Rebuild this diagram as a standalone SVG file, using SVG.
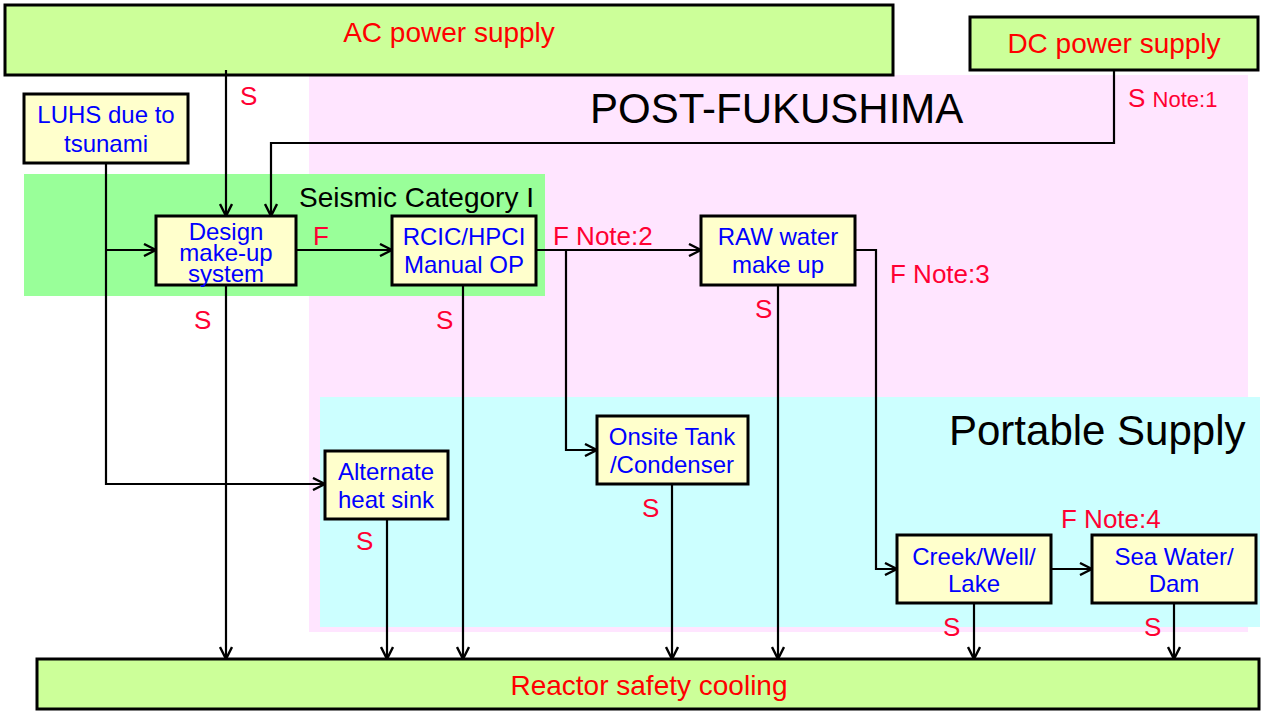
<svg xmlns="http://www.w3.org/2000/svg" width="1263" height="711" viewBox="0 0 1263 711">
<defs>
<style>
.t{font-family:"Liberation Sans",Arial,sans-serif}
.pw{fill:#ccff99;stroke:#000;stroke-width:3}
.nd{fill:#ffffcc;stroke:#000;stroke-width:3}
.nt{font-size:24px;fill:#0000ff;text-anchor:middle}
.rt{font-size:28px;fill:#ff0000;text-anchor:middle}
.lb{font-size:26px;fill:#ff0033}
.ct{fill:none;stroke:#000;stroke-width:2.2}
.big{font-size:42px;fill:#000}
</style>
<marker id="ar" viewBox="0 0 14 14" refX="13" refY="7" markerWidth="14" markerHeight="14" markerUnits="userSpaceOnUse" orient="auto">
<path d="M1,1 L13,7 L1,13" fill="none" stroke="#000" stroke-width="2.4"/>
</marker>
</defs>
<rect width="1263" height="711" fill="#fff"/>
<g id="region-post-fukushima">
<rect x="309" y="75" width="939" height="557" fill="#ffe5ff"/>
<text class="t big" x="590" y="123">POST-FUKUSHIMA</text>
</g>
<g id="region-portable">
<rect x="320" y="397" width="940" height="230" fill="#ccffff"/>
<text class="t big" x="949" y="445">Portable Supply</text>
</g>
<g id="region-seismic">
<rect x="24" y="174" width="521" height="122" fill="#99ff99"/>
<text class="t" x="299" y="207" font-size="28" fill="#000">Seismic Category I</text>
</g>
<g id="ac-power">
<rect class="pw" x="5" y="5" width="888" height="70"/>
<text class="t rt" x="449" y="42">AC power supply</text>
</g>
<g id="dc-power">
<rect class="pw" x="970" y="17" width="288" height="53"/>
<text class="t rt" x="1114" y="53">DC power supply</text>
</g>
<g id="reactor">
<rect class="pw" x="37" y="659" width="1222" height="50"/>
<text class="t rt" x="649" y="695">Reactor safety cooling</text>
</g>
<g id="connectors">
<path class="ct" d="M226,70 V216" marker-end="url(#ar)"/>
<path class="ct" d="M1114,70 V143 H271 V216" marker-end="url(#ar)"/>
<path class="ct" d="M106,163 V484 H325" marker-end="url(#ar)"/>
<path class="ct" d="M106,250 H156" marker-end="url(#ar)"/>
<path class="ct" d="M296,250 H392" marker-end="url(#ar)"/>
<path class="ct" d="M536,250 H701" marker-end="url(#ar)"/>
<path class="ct" d="M566,250 V450 H597" marker-end="url(#ar)"/>
<path class="ct" d="M855,250 H876 V569 H897" marker-end="url(#ar)"/>
<path class="ct" d="M1051,569 H1092" marker-end="url(#ar)"/>
<path class="ct" d="M226,285 V659" marker-end="url(#ar)"/>
<path class="ct" d="M387,519 V659" marker-end="url(#ar)"/>
<path class="ct" d="M463,285 V659" marker-end="url(#ar)"/>
<path class="ct" d="M672,484 V659" marker-end="url(#ar)"/>
<path class="ct" d="M778,285 V659" marker-end="url(#ar)"/>
<path class="ct" d="M974,603 V659" marker-end="url(#ar)"/>
<path class="ct" d="M1174,603 V659" marker-end="url(#ar)"/>
<text class="t lb" x="240" y="105">S</text>
<text class="t lb" x="1128" y="107">S <tspan font-size="22">Note:1</tspan></text>
<text class="t lb" x="313" y="245">F</text>
<text class="t lb" x="553" y="245">F Note:2</text>
<text class="t lb" x="890" y="283">F Note:3</text>
<text class="t lb" x="1061" y="528">F Note:4</text>
<text class="t lb" x="194" y="329">S</text>
<text class="t lb" x="436" y="329">S</text>
<text class="t lb" x="755" y="318">S</text>
<text class="t lb" x="356" y="550">S</text>
<text class="t lb" x="642" y="517">S</text>
<text class="t lb" x="943" y="636">S</text>
<text class="t lb" x="1144" y="636">S</text>
</g>
<g id="luhs">
<rect class="nd" x="24" y="94" width="164" height="69"/>
<text class="t nt" x="106" y="123">LUHS due to</text>
<text class="t nt" x="106" y="152">tsunami</text>
</g>
<g id="design">
<rect class="nd" x="156" y="216" width="140" height="69"/>
<text class="t nt" x="226" y="240" font-size="23">Design</text>
<text class="t nt" x="226" y="261" font-size="23">make-up</text>
<text class="t nt" x="226" y="282" font-size="23">system</text>
</g>
<g id="rcic">
<rect class="nd" x="392" y="216" width="144" height="69"/>
<text class="t nt" x="464" y="245">RCIC/HPCI</text>
<text class="t nt" x="464" y="273">Manual OP</text>
</g>
<g id="raw">
<rect class="nd" x="701" y="216" width="154" height="69"/>
<text class="t nt" x="778" y="245">RAW water</text>
<text class="t nt" x="778" y="273">make up</text>
</g>
<g id="onsite">
<rect class="nd" x="597" y="416" width="151" height="68"/>
<text class="t nt" x="672" y="445">Onsite Tank</text>
<text class="t nt" x="672" y="473">/Condenser</text>
</g>
<g id="alternate">
<rect class="nd" x="325" y="451" width="123" height="68"/>
<text class="t nt" x="386" y="480">Alternate</text>
<text class="t nt" x="386" y="508">heat sink</text>
</g>
<g id="creek">
<rect class="nd" x="897" y="535" width="154" height="68"/>
<text class="t nt" x="974" y="565">Creek/Well/</text>
<text class="t nt" x="974" y="592">Lake</text>
</g>
<g id="sea">
<rect class="nd" x="1092" y="535" width="164" height="68"/>
<text class="t nt" x="1174" y="565">Sea Water/</text>
<text class="t nt" x="1174" y="592">Dam</text>
</g>
</svg>
